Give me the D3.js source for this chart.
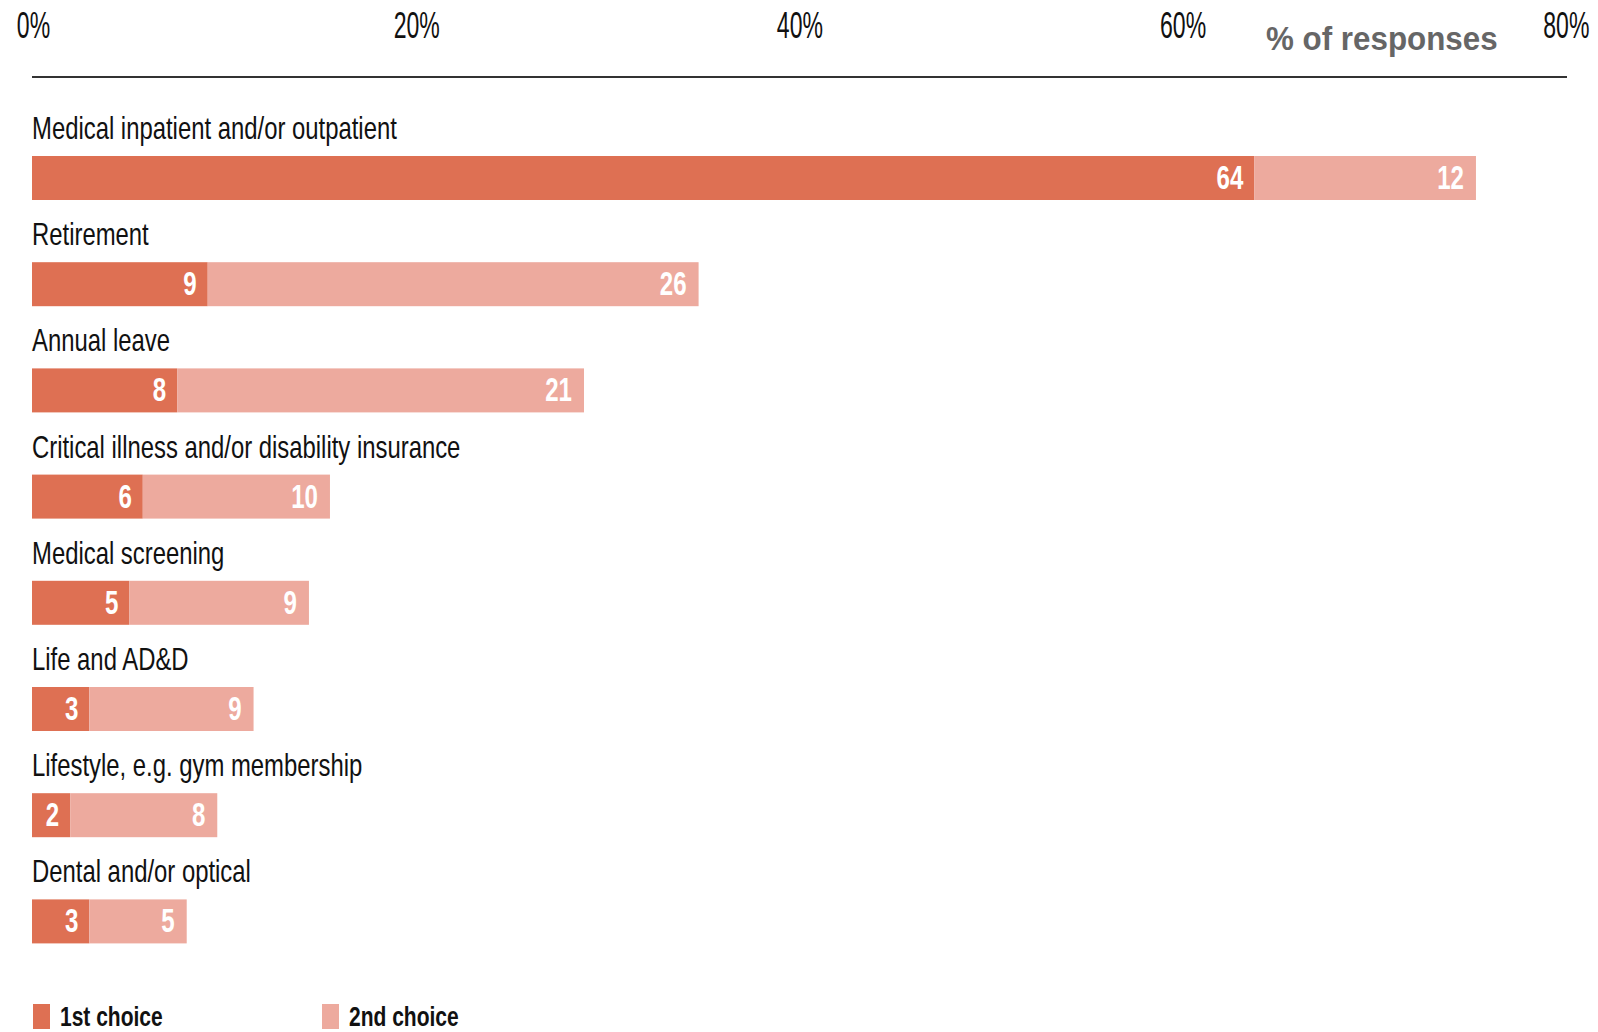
<!DOCTYPE html>
<html>
<head>
<meta charset="utf-8">
<script src="https://cdn.jsdelivr.net/npm/d3@7"></script>
<style>
  html, body { margin: 0; padding: 0; background: #fff; }
  svg { display: block; font-family: "Liberation Sans", Arial, sans-serif; }
</style>
</head>
<body>
<div id="container"></div>
<script>
const container = document.getElementById('container');

const w = 1598;
const h = 1032;

// data (las etiquetas muestran el valor redondeado)
const categories = [
  "Medical inpatient and/or outpatient",
  "Retirement",
  "Annual leave",
  "Critical illness and/or disability insurance",
  "Medical screening",
  "Life and AD&D",
  "Lifestyle, e.g. gym membership",
  "Dental and/or optical"
];
const firstChoice = [64.0, 9.2, 7.6, 5.8, 5.1, 3.0, 2.0, 3.0];
const secondChoice = [11.6, 25.7, 21.3, 9.8, 9.4, 8.6, 7.7, 5.1];
const tickValues = [0, 20, 40, 60, 80];
const seriesNames = ["1st choice", "2nd choice"];
const colors = ["#de7053", "#edaa9e"];

const svg = d3.select(container)
    .append('svg')
    .attr('width', w)
    .attr('height', h);

// escalas
const x = d3.scaleLinear()
    .domain([0, 80])
    .range([32, 1560]);

const y = d3.scaleBand()
    .domain(categories)
    .range([156, 943.4])
    .paddingInner(0.5857)
    .paddingOuter(0);

// eje superior
const axis = d3.axisTop(x)
    .tickValues(tickValues)
    .tickFormat(d => d + '%')
    .tickSize(0)
    .tickPadding(39);

const gAxis = svg.append('g')
    .attr('transform', 'translate(0,77)')
    .call(axis);

gAxis.select('.domain').remove();
gAxis.selectAll('text')
    .attr('font-family', '"Liberation Sans", Arial, sans-serif')
    .attr('font-size', 36)
    .attr('fill', '#111')
    .attr('transform', d => `translate(${1 + d * 0.06},0) scale(0.64,1)`);

svg.append('line')
    .attr('x1', 32)
    .attr('x2', 1567)
    .attr('y1', 77)
    .attr('y2', 77)
    .attr('stroke', '#333')
    .attr('stroke-width', 2);

svg.append('text')
    .attr('transform', 'translate(1266,50) scale(0.95,1)')
    .attr('font-size', 33)
    .attr('font-weight', 'bold')
    .attr('fill', '#666')
    .text('% of responses');

// filas
const rows = svg.selectAll('g.row')
    .data(categories.map((c, i) => ({ cat: c, a: firstChoice[i], b: secondChoice[i] })))
    .enter()
    .append('g')
    .attr('class', 'row');

rows.append('text')
    .attr('transform', d => `translate(32,${y(d.cat) - 17}) scale(0.746,1)`)
    .attr('font-size', 32)
    .attr('fill', '#111')
    .text(d => d.cat);

rows.append('rect')
    .attr('x', x(0))
    .attr('y', d => y(d.cat))
    .attr('width', d => x(d.a) - x(0))
    .attr('height', y.bandwidth())
    .attr('fill', colors[0]);

rows.append('rect')
    .attr('x', d => x(d.a))
    .attr('y', d => y(d.cat))
    .attr('width', d => x(d.a + d.b) - x(d.a))
    .attr('height', y.bandwidth())
    .attr('fill', colors[1]);

// valores dentro de las barras
rows.append('text')
    .attr('transform', d => `translate(${x(d.a) - 11},${y(d.cat) + 33}) scale(0.73,1)`)
    .attr('text-anchor', 'end')
    .attr('font-size', 33)
    .attr('font-weight', 'bold')
    .attr('fill', '#fff')
    .text(d => Math.round(d.a));

rows.append('text')
    .attr('transform', d => `translate(${x(d.a + d.b) - 12},${y(d.cat) + 33}) scale(0.73,1)`)
    .attr('text-anchor', 'end')
    .attr('font-size', 33)
    .attr('font-weight', 'bold')
    .attr('fill', '#fff')
    .text(d => Math.round(d.b));

// leyenda
const legendX = [33, 322];
const legend = svg.selectAll('g.legend')
    .data(seriesNames)
    .enter()
    .append('g')
    .attr('class', 'legend')
    .attr('transform', (d, i) => `translate(${legendX[i]},1004)`);

legend.append('rect')
    .attr('width', 17)
    .attr('height', 25)
    .attr('fill', (d, i) => colors[i]);

legend.append('text')
    .attr('transform', 'translate(27,22) scale(0.75,1)')
    .attr('font-size', 28)
    .attr('font-weight', 'bold')
    .attr('fill', '#111')
    .text(d => d);
</script>
</body>
</html>
